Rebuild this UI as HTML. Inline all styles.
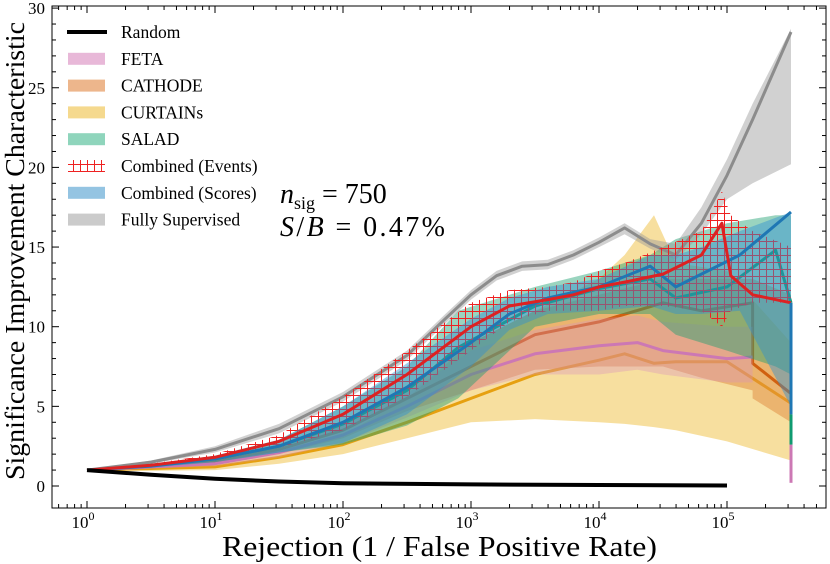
<!DOCTYPE html>
<html><head><meta charset="utf-8"><style>
body{margin:0;background:#fff;}
svg{display:block;font-family:"Liberation Serif",serif;}
</style></head><body>
<svg id="chart" width="830" height="564" viewBox="0 0 830 564" xmlns="http://www.w3.org/2000/svg">
<defs>
<pattern id="hatch" width="7" height="7" patternUnits="userSpaceOnUse">
<path d="M3.5 0V7M0 3.5H7" stroke="#ee2222" stroke-width="1"/>
</pattern>
<clipPath id="pc"><rect x="52" y="6" width="774" height="502"/></clipPath>
</defs>
<g id="plot" clip-path="url(#pc)"></g>
<g id="axes"></g>
<text x="280" y="203" font-size="28" font-style="italic">n<tspan font-size="18" font-style="normal" dy="6">sig</tspan><tspan dy="-6" font-style="normal"> = 750</tspan></text>
<text x="280" y="236" font-size="28" textLength="165"><tspan font-style="italic">S</tspan>/<tspan font-style="italic">B</tspan> = 0.47%</text>
<text x="222" y="556" font-size="29" textLength="435" lengthAdjust="spacingAndGlyphs">Rejection (1 / False Positive Rate)</text>
<text transform="translate(24,480) rotate(-90)" font-size="27" textLength="458" lengthAdjust="spacingAndGlyphs">Significance Improvement Characteristic</text>
<g id="legend"></g>
</svg>
<script>
// data: x in log10(rejection)
const randomX=[0,0.5,1,1.5,2,3,4,5];
const randomY=[1,0.7,0.45,0.28,0.17,0.1,0.06,0.03];
const supX=[0,0.5,1,1.5,2,2.5,2.8,3,3.2,3.4,3.6,3.8,4.0,4.2,4.4,4.6,4.8,5.0,5.2,5.5];
const supY=[1,1.5,2.3,3.6,5.6,8.2,10.5,12.0,13.2,13.8,13.9,14.5,15.3,16.2,15.2,14.5,16.5,19.5,23,28.5];
const supLo=[1,1.4,2.1,3.3,5.3,7.9,10.2,11.7,12.9,13.5,13.6,14.2,15.0,15.8,14.9,14.2,15.8,18,19,20.2];
const supHi=[1,1.6,2.5,3.9,5.9,8.5,10.8,12.3,13.5,14.1,14.2,14.8,15.6,16.5,15.5,15.2,17.5,20.5,24,28.7];
const curX=[0,0.5,1,1.5,2,2.5,3,3.5,4,4.2,4.43,4.6,5,5.5];
const curY=[1,1.1,1.2,1.8,2.6,4,5.5,7,7.9,8.3,7.7,7.8,7.8,5.2];
const curLo=[1,0.95,1,1.4,2,3,4,4.2,4.0,3.9,3.7,3.5,2.8,1.6];
const curHi=[1,1.2,1.4,2.2,3.2,5.5,9,11,13,14.5,17,14,13.5,9];
const catX=[0,0.5,1,1.5,2,2.5,3,3.5,4,4.5,4.8,5.2,5.2,5.5];
const catY=[1,1.2,1.5,2.3,3.5,5.5,7.5,9.5,10.3,11.5,11,11.5,7.7,5.8];
const catLo=[1,1.1,1.3,2,3,4.7,6,7.3,7.5,7.5,6.8,6,5.5,4];
const catHi=[1,1.3,1.7,2.6,4,6.3,9,11,12,13,13,13,13,12];
const fetaX=[0,0.5,1,1.5,2,2.5,3,3.5,4,4.3,4.5,5,5.2];
const fetaY=[1,1.2,1.4,2.1,3.2,5,7,8.3,8.8,9,8.5,8,8.1];
const fetaLo=[1,1.1,1.25,1.8,2.7,4.3,6,7,7,7.3,7,6.5,6.5];
const fetaHi=[1,1.3,1.55,2.4,3.8,5.8,8.5,9.8,10.5,10.7,10.3,10,10];
const salX=[0,0.5,1,1.5,2,2.5,2.9,3.5,4,4.4,4.6,5,5.38,5.5];
const salY=[1,1.3,1.7,2.5,3.9,6,8.7,11.3,12.4,13,11.8,12.5,14.8,11.5];
const salLo=[1,1.2,1.5,2.1,2.6,3.8,5.5,10,10.8,10.8,9.5,8.5,7.5,7];
const salHi=[1,1.4,1.9,2.9,5,7.5,11,12.5,13.5,14.5,15.5,16.5,17,17];
const evX=[0,0.5,1,1.5,2,2.5,3,3.3,3.6,3.8,4.0,4.2,4.5,4.8,4.96,5.03,5.2,5.5];
const evY=[1,1.3,1.8,2.8,4.5,7,10,11.3,11.7,12,12.5,12.8,13.3,14.5,16.5,13.2,12,11.5];
const evLo=[1,1.2,1.6,2.4,3.5,5.6,8.5,10.3,11,11,11,11.3,11.3,11,10,11,11.5,11.5];
const evHi=[1,1.4,2,3.2,5.6,8.5,11.5,12.3,12.5,12.8,13.5,14,15,16,18.5,17,16,15];
const scX=[0,0.5,1,1.5,2,2.5,3,3.3,3.6,4,4.4,4.6,4.8,5.1,5.5];
const scY=[1,1.25,1.7,2.5,4,6.2,9,10.8,11.8,12.5,13.8,12.5,13.3,14.5,17.2];
const scLo=[1,1.15,1.5,2.1,2.7,4.5,7.5,9.8,10.8,11,11.3,10.8,10.8,11,5];
const scHi=[1,1.35,1.9,2.9,5,7.7,10.5,11.8,12.5,13,14.5,14.5,15,16,17.2];
const yTicks=[0,5,10,15,20,25,30];
const xTickExps=[0,1,2,3,4,5];

const NS="http://www.w3.org/2000/svg";
const X0=87,DEC=128,Y0=486,YU=15.93;
const sx=v=>X0+v*DEC, sy=v=>Y0-v*YU;
const plot=document.getElementById('plot'),axes=document.getElementById('axes'),leg=document.getElementById('legend');
function mk(t,a,p){const e=document.createElementNS(NS,t);for(const k in a)e.setAttribute(k,a[k]);p.appendChild(e);return e;}
function line(xs,ys){return xs.map((x,i)=>(i?'L':'M')+sx(x).toFixed(1)+' '+sy(ys[i]).toFixed(1)).join('');}
function band(xs,lo,hi){let d=line(xs,hi);for(let i=xs.length-1;i>=0;i--)d+='L'+sx(xs[i]).toFixed(1)+' '+sy(lo[i]).toFixed(1);return d+'Z';}
function series(name,xs,y,lo,hi,fill,op,stroke){
 const b=mk('path',{d:band(xs,lo,hi),fill:fill,'fill-opacity':op,stroke:'none'},plot);
 
 
 const l=mk('path',{d:line(xs,y),fill:'none',stroke:stroke,'stroke-width':3,'stroke-linejoin':'round'},plot);
 
 
}
series('curtains',curX,curY,curLo,curHi,'#f0c040',0.5,'#e6a010');
series('cathode',catX,catY,catLo,catHi,'#e08a40',0.5,'#d06010');
series('feta',fetaX,fetaY,fetaLo,fetaHi,'#d890c0',0.35,'#cc78b4');
series('salad',salX,salY,salLo,salHi,'#20a070',0.45,'#109a70');
series('fully-supervised',supX,supY,supLo,supHi,'#999',0.45,'#8c8c8c');
const hb=mk('path',{d:band(evX,evLo,evHi),fill:'url(#hatch)',stroke:'none'},plot);


series('combined-scores',scX,scY,scLo,scHi,'#3090d0',0.45,'#1f77b4');
const el=mk('path',{d:line(evX,evY),fill:'none',stroke:'#dd2222','stroke-width':3,'stroke-linejoin':'round'},plot);


const rl=mk('path',{d:line(randomX,randomY),fill:'none',stroke:'#000','stroke-width':4},plot);


[[0.2,2.6,'#cc78b4'],[2.6,4.5,'#109a70'],[4.5,11.5,'#1f77b4']].forEach(s=>{
 const v=mk('line',{x1:sx(5.5),x2:sx(5.5),y1:sy(s[0]),y2:sy(s[1]),stroke:s[2],'stroke-width':3},plot);
 
 
});
const fr=mk('rect',{x:52,y:6,width:774,height:502,fill:'none',stroke:'#000','stroke-width':1},axes);


for(let v=0;v<=31;v++){const y=sy(v);if(y<6||y>508)continue;const L=v%5==0?7:4;
 mk('line',{x1:52,x2:52+L,y1:y,y2:y,stroke:'#000'},axes);mk('line',{x1:826,x2:826-L,y1:y,y2:y,stroke:'#000'},axes);}
yTicks.forEach(v=>{const t=mk('text',{x:45,y:sy(v)+6,'font-size':17,'text-anchor':'end'},axes);t.textContent=v;
 
 });
for(let e=-1;e<=6;e++)for(let m=1;m<10;m++){const x=sx(e+Math.log10(m));if(x<52||x>826)continue;const L=m==1?7:4;
 mk('line',{x1:x,x2:x,y1:508,y2:508-L,stroke:'#000'},axes);mk('line',{x1:x,x2:x,y1:6,y2:6+L,stroke:'#000'},axes);}
xTickExps.forEach(e=>{const t=mk('text',{x:sx(e)-4,y:528,'font-size':17,'text-anchor':'middle'},axes);
 t.innerHTML='10<tspan font-size="12" dy="-8">'+e+'</tspan>';
 
 });
const legItems=[['Random','line','#000'],['FETA','#e8b8d8'],['CATHODE','#edb68c'],['CURTAINs','#f5d98e'],['SALAD','#8fd5bc'],['Combined (Events)','hatch'],['Combined (Scores)','#94c4e2'],['Fully Supervised','#cbcbcb']];
legItems.forEach((it,i)=>{const y=32+i*26.8;const g=mk('g',{},leg);
 
 
 if(it[1]=='line')mk('rect',{x:67,y:y-2,width:40,height:4,fill:'#000'},g);
 else if(it[1]=='hatch')mk('rect',{x:68,y:y-6,width:37,height:12,fill:'url(#hatch)'},g);
 else mk('rect',{x:68,y:y-6,width:37,height:12,fill:it[1]},g);
 const t=mk('text',{x:121,y:y+6,'font-size':17.5},g);t.textContent=it[0];});
</script>
</body></html>
